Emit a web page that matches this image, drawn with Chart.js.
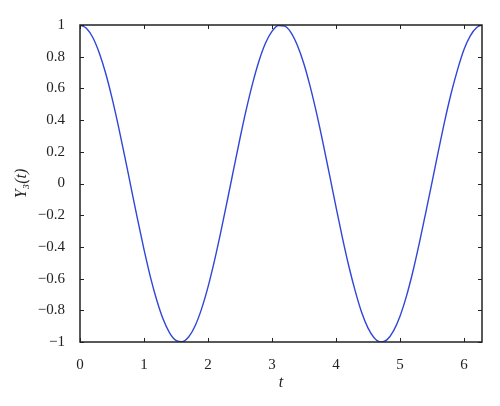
<!DOCTYPE html>
<html>
<head>
<meta charset="utf-8">
<script src="https://cdn.jsdelivr.net/npm/chart.js@4.4.0/dist/chart.umd.min.js"></script>
<style>
  html, body { margin: 0; padding: 0; background: #fff; }
  #wrap { width: 500px; height: 406px; }
</style>
</head>
<body>
<div id="wrap"><canvas id="myChart" width="500" height="406"></canvas></div>
<script>
// values
var tValues = [0, 0.1, 0.2, 0.3, 0.4, 0.5, 0.6, 0.7, 0.8, 0.9,
    1.0, 1.1, 1.2, 1.3, 1.4, 1.5, 1.6, 1.7, 1.8, 1.9,
    2.0, 2.1, 2.2, 2.3, 2.4, 2.5, 2.6, 2.7, 2.8, 2.9,
    3.0, 3.1, 3.2, 3.3, 3.4, 3.5, 3.6, 3.7, 3.8, 3.9,
    4.0, 4.1, 4.2, 4.3, 4.4, 4.5, 4.6, 4.7, 4.8, 4.9,
    5.0, 5.1, 5.2, 5.3, 5.4, 5.5, 5.6, 5.7, 5.8, 5.9,
    6.0, 6.1, 6.2, 6.283];
var yValues = [1.000, 0.980, 0.921, 0.825, 0.697, 0.540, 0.362, 0.170, -0.029, -0.227,
    -0.416, -0.589, -0.737, -0.857, -0.942, -0.990, -0.998, -0.967, -0.897, -0.791,
    -0.654, -0.490, -0.307, -0.112, 0.087, 0.284, 0.469, 0.635, 0.776, 0.886,
    0.960, 0.997, 0.993, 0.951, 0.869, 0.754, 0.608, 0.439, 0.252, 0.054,
    -0.146, -0.340, -0.519, -0.676, -0.811, -0.911, -0.975, -1.000, -0.985, -0.930,
    -0.839, -0.714, -0.560, -0.383, -0.191, 0.004, 0.202, 0.394, 0.568, 0.717,
    0.844, 0.932, 0.984, 1.000];
var xTicks = [0, 1, 2, 3, 4, 5, 6];
var yTicks = [-1, -0.8, -0.6, -0.4, -0.2, 0, 0.2, 0.4, 0.6, 0.8, 1];

var points = tValues.map(function (t, i) { return { x: t, y: yValues[i] }; });

function fmt(v) {
    var s = String(Math.round(v * 10) / 10);
    return s.replace('-', '\u2212');
}

// box round the plot with inward ticks on every side
var frameTicks = {
    id: 'frameTicks',
    afterDatasetsDraw: function (chart) {
        var ctx = chart.ctx, a = chart.chartArea;
        var xs = chart.scales.x, ys = chart.scales.y;
        var len = 4;
        ctx.save();
        ctx.strokeStyle = '#222';
        ctx.lineWidth = 1;
        ctx.beginPath();
        xTicks.forEach(function (v) {
            var px = Math.round(xs.getPixelForValue(v)) + 0.5;
            ctx.moveTo(px, a.bottom); ctx.lineTo(px, a.bottom - len);
            ctx.moveTo(px, a.top); ctx.lineTo(px, a.top + len);
        });
        yTicks.forEach(function (v) {
            var py = Math.round(ys.getPixelForValue(v)) + 0.5;
            ctx.moveTo(a.left, py); ctx.lineTo(a.left + len, py);
            ctx.moveTo(a.right, py); ctx.lineTo(a.right - len, py);
        });
        ctx.stroke();
        ctx.lineWidth = 1.5;
        ctx.strokeRect(a.left, a.top, a.right - a.left, a.bottom - a.top);
        ctx.restore();
    }
};

var chartContext = document.getElementById('myChart').getContext('2d');
new Chart(chartContext, {
    type: 'line',
    data: {
        datasets: [{
            data: points,
            borderColor: '#2f46d8',
            borderWidth: 1.4,
            pointRadius: 0,
            fill: false,
            cubicInterpolationMode: 'monotone'
        }]
    },
    options: {
        responsive: false,
        animation: false,
        layout: { padding: { left: 0, right: 18, top: 25, bottom: 0 } },
        plugins: { legend: { display: false }, tooltip: { enabled: false } },
        scales: {
            x: {
                type: 'linear',
                min: 0,
                max: 6.283,
                afterBuildTicks: function (scale) {
                    scale.ticks = xTicks.map(function (v) { return { value: v }; });
                },
                afterFit: function (scale) { scale.height = 64; },
                grid: { display: false },
                border: { display: false },
                ticks: {
                    color: '#222',
                    padding: 6,
                    maxRotation: 0,
                    font: { family: 'Liberation Serif', size: 15 },
                    callback: function (v) { return fmt(v); }
                },
                title: {
                    display: true,
                    text: 't',
                    color: '#222',
                    padding: { top: 0, bottom: 14 },
                    font: { family: 'Liberation Serif', size: 16, style: 'italic' }
                }
            },
            y: {
                type: 'linear',
                min: -1,
                max: 1,
                afterBuildTicks: function (scale) {
                    scale.ticks = yTicks.map(function (v) { return { value: v }; });
                },
                afterFit: function (scale) { scale.width = 80; },
                grid: { display: false },
                border: { display: false },
                ticks: {
                    color: '#222',
                    padding: 7,
                    font: { family: 'Liberation Serif', size: 15 },
                    callback: function (v) { return fmt(v); }
                },
                title: {
                    display: true,
                    text: 'Y\u2083(t)',
                    color: '#222',
                    padding: { top: 12, bottom: 0 },
                    font: { family: 'Liberation Serif', size: 16, style: 'italic' }
                }
            }
        }
    },
    plugins: [frameTicks]
});
</script>
</body>
</html>
